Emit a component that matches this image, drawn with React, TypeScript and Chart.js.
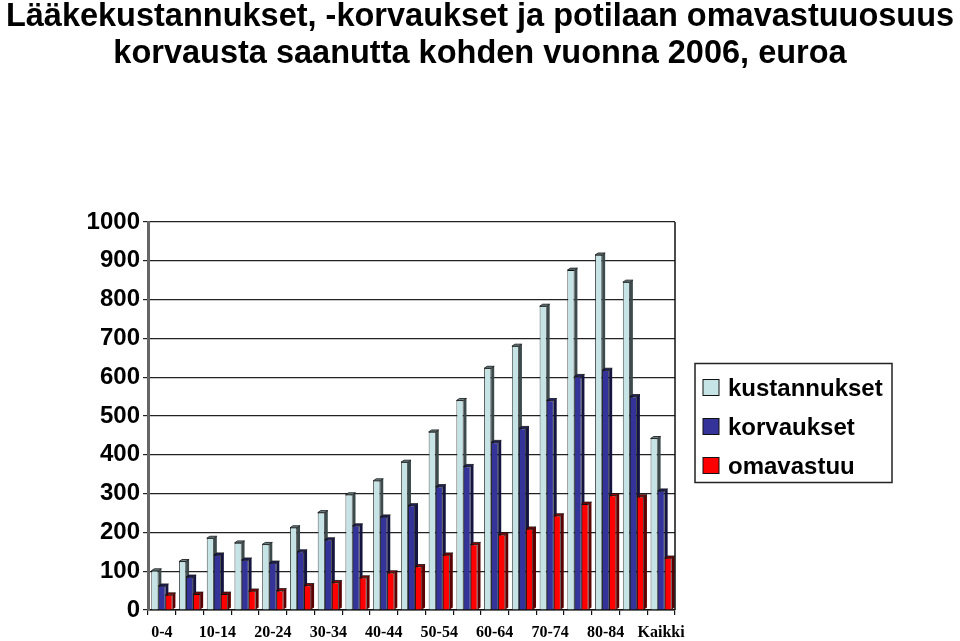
import React, { useEffect, useRef } from "react";
import { Chart, registerables } from "chart.js";

Chart.register(...registerables);

const titleLines = [
  "Lääkekustannukset, -korvaukset ja potilaan omavastuuosuus",
  "korvausta saanutta kohden vuonna 2006, euroa",
];
const categories = [
  "0-4", "5-9", "10-14", "15-19", "20-24", "25-29", "30-34", "35-39", "40-44",
  "45-49", "50-54", "55-59", "60-64", "65-69", "70-74", "75-79", "80-84", "85-", "Kaikki",
];
const kustannukset = [101, 125, 185, 173, 169, 212, 251, 297, 333, 381, 459, 540, 623, 680, 783, 876, 915, 845, 442];
const korvaukset = [62, 85, 142, 129, 121, 150, 181, 217, 240, 269, 318, 370, 432, 468, 540, 602, 618, 550, 307];
const omavastuu = [39, 41, 41, 49, 50, 63, 71, 83, 96, 112, 142, 169, 194, 209, 243, 273, 295, 292, 134];
const seriesLabels = ["kustannukset", "korvaukset", "omavastuu"];
const yMin = 0;
const yMax = 1000;
const yStep = 100;

const frontColors = ["#c6e4e6", "#333399", "#ff0000"];
const sideColors = ["#3c4a4c", "#141440", "#5a0000"];
const topColors = ["#6e8284", "#22226a", "#9a0000"];

const SANS = "'Liberation Sans', Arial, sans-serif";
const SERIF = "'Liberation Serif', 'Times New Roman', serif";

const bar3d = {
  id: "bar3d",
  beforeDatasetsDraw(chart: any) {
    const ctx = chart.ctx;
    const dx = 3;
    const dy = 2;
    ctx.save();
    chart.data.datasets.forEach((ds: any, di: number) => {
      const meta = chart.getDatasetMeta(di);
      meta.data.forEach((el: any) => {
        const { x, y, base, width } = el.getProps(["x", "y", "base", "width"], true);
        const l = x - width / 2;
        const r = x + width / 2;
        ctx.fillStyle = sideColors[di];
        ctx.beginPath();
        ctx.moveTo(r, y);
        ctx.lineTo(r + dx, y - dy);
        ctx.lineTo(r + dx, base - dy);
        ctx.lineTo(r, base);
        ctx.closePath();
        ctx.fill();
        ctx.fillStyle = topColors[di];
        ctx.beginPath();
        ctx.moveTo(l, y);
        ctx.lineTo(l + dx, y - dy);
        ctx.lineTo(r + dx, y - dy);
        ctx.lineTo(r, y);
        ctx.closePath();
        ctx.fill();
        ctx.strokeStyle = "#111";
        ctx.lineWidth = 0.8;
        ctx.stroke();
      });
    });
    ctx.restore();
  },
};

const frameAndLegend = {
  id: "frameAndLegend",
  afterDraw(chart: any) {
    const ctx = chart.ctx;
    const ca = chart.chartArea;
    ctx.save();
    ctx.strokeStyle = "#111";
    ctx.lineWidth = 1.5;
    ctx.beginPath();
    ctx.moveTo(ca.right, ca.top);
    ctx.lineTo(ca.right, ca.bottom);
    ctx.stroke();

    const bw = 197;
    const bh = 119;
    const bx = ca.right + 20;
    const by = (ca.top + ca.bottom) / 2 - bh / 2 + 7;
    ctx.fillStyle = "#fff";
    ctx.fillRect(bx, by, bw, bh);
    ctx.strokeStyle = "#222";
    ctx.lineWidth = 1.5;
    ctx.strokeRect(bx, by, bw, bh);
    ctx.font = `bold 24px ${SANS}`;
    ctx.textAlign = "left";
    ctx.textBaseline = "alphabetic";
    chart.data.datasets.forEach((ds: any, i: number) => {
      const baseline = by + 32 + i * 39;
      ctx.fillStyle = ds.backgroundColor;
      ctx.fillRect(bx + 8, baseline - 16, 16, 16);
      ctx.strokeStyle = "#111";
      ctx.lineWidth = 1;
      ctx.strokeRect(bx + 8, baseline - 16, 16, 16);
      ctx.fillStyle = "#000";
      ctx.fillText(ds.label, bx + 33, baseline);
    });
    ctx.restore();
  },
};

export default function App() {
  const ref = useRef<HTMLCanvasElement | null>(null);
  useEffect(() => {
    if (!ref.current) return;
    const seriesData = [kustannukset, korvaukset, omavastuu];
    const chart = new Chart(ref.current, {
      type: "bar",
      data: {
        labels: categories,
        datasets: seriesLabels.map((label, i) => ({
          label,
          data: seriesData[i],
          backgroundColor: frontColors[i],
          borderColor: "#111",
          borderWidth: 0.8,
          categoryPercentage: 0.76,
          barPercentage: 1.0,
        })),
      },
      options: {
        responsive: false,
        animation: false,
        devicePixelRatio: 1,
        layout: { padding: 0 },
        plugins: {
          legend: { display: false },
          tooltip: { enabled: false },
          title: {
            display: true,
            text: titleLines,
            color: "#000",
            align: "center",
            fullSize: true,
            font: { family: SANS, size: 32.5, weight: "bold", lineHeight: 37 / 32.5 },
            padding: { top: -1, bottom: 149 },
          },
        },
        scales: {
          x: {
            grid: {
              display: true,
              offset: true,
              drawOnChartArea: false,
              drawTicks: true,
              tickLength: 5,
              color: "#111",
              lineWidth: 1.2,
            },
            border: { display: true, color: "#111", width: 1.5 },
            ticks: {
              autoSkip: false,
              maxRotation: 0,
              minRotation: 0,
              padding: 8,
              color: "#000",
              font: { family: SERIF, size: 16, weight: "bold" },
              callback: (_v: any, i: number) => (i % 2 === 0 ? categories[i] : ""),
            },
            afterFit: (s: any) => {
              s.height = 31;
            },
          },
          y: {
            min: yMin,
            max: yMax,
            ticks: {
              stepSize: yStep,
              padding: 3,
              color: "#000",
              font: { family: SANS, size: 24, weight: "bold" },
              callback: (v: any) => String(v),
            },
            grid: {
              color: "#222",
              lineWidth: 1.2,
              tickLength: 5,
            },
            border: { display: true, color: "#666", width: 3 },
            afterFit: (s: any) => {
              s.width = 148;
            },
          },
          legendSpace: {
            type: "linear",
            position: "right",
            display: true,
            grid: { display: false, drawTicks: false },
            border: { display: false },
            ticks: { display: false },
            afterFit: (s: any) => {
              s.width = 285;
            },
          },
        },
      },
      plugins: [bar3d, frameAndLegend],
    });
    return () => chart.destroy();
  }, []);
  return (
    <div style={{ position: "fixed", left: 0, top: 0, width: 960, height: 641, background: "#fff" }}>
      <canvas ref={ref} width={960} height={641} style={{ display: "block" }} />
    </div>
  );
}
